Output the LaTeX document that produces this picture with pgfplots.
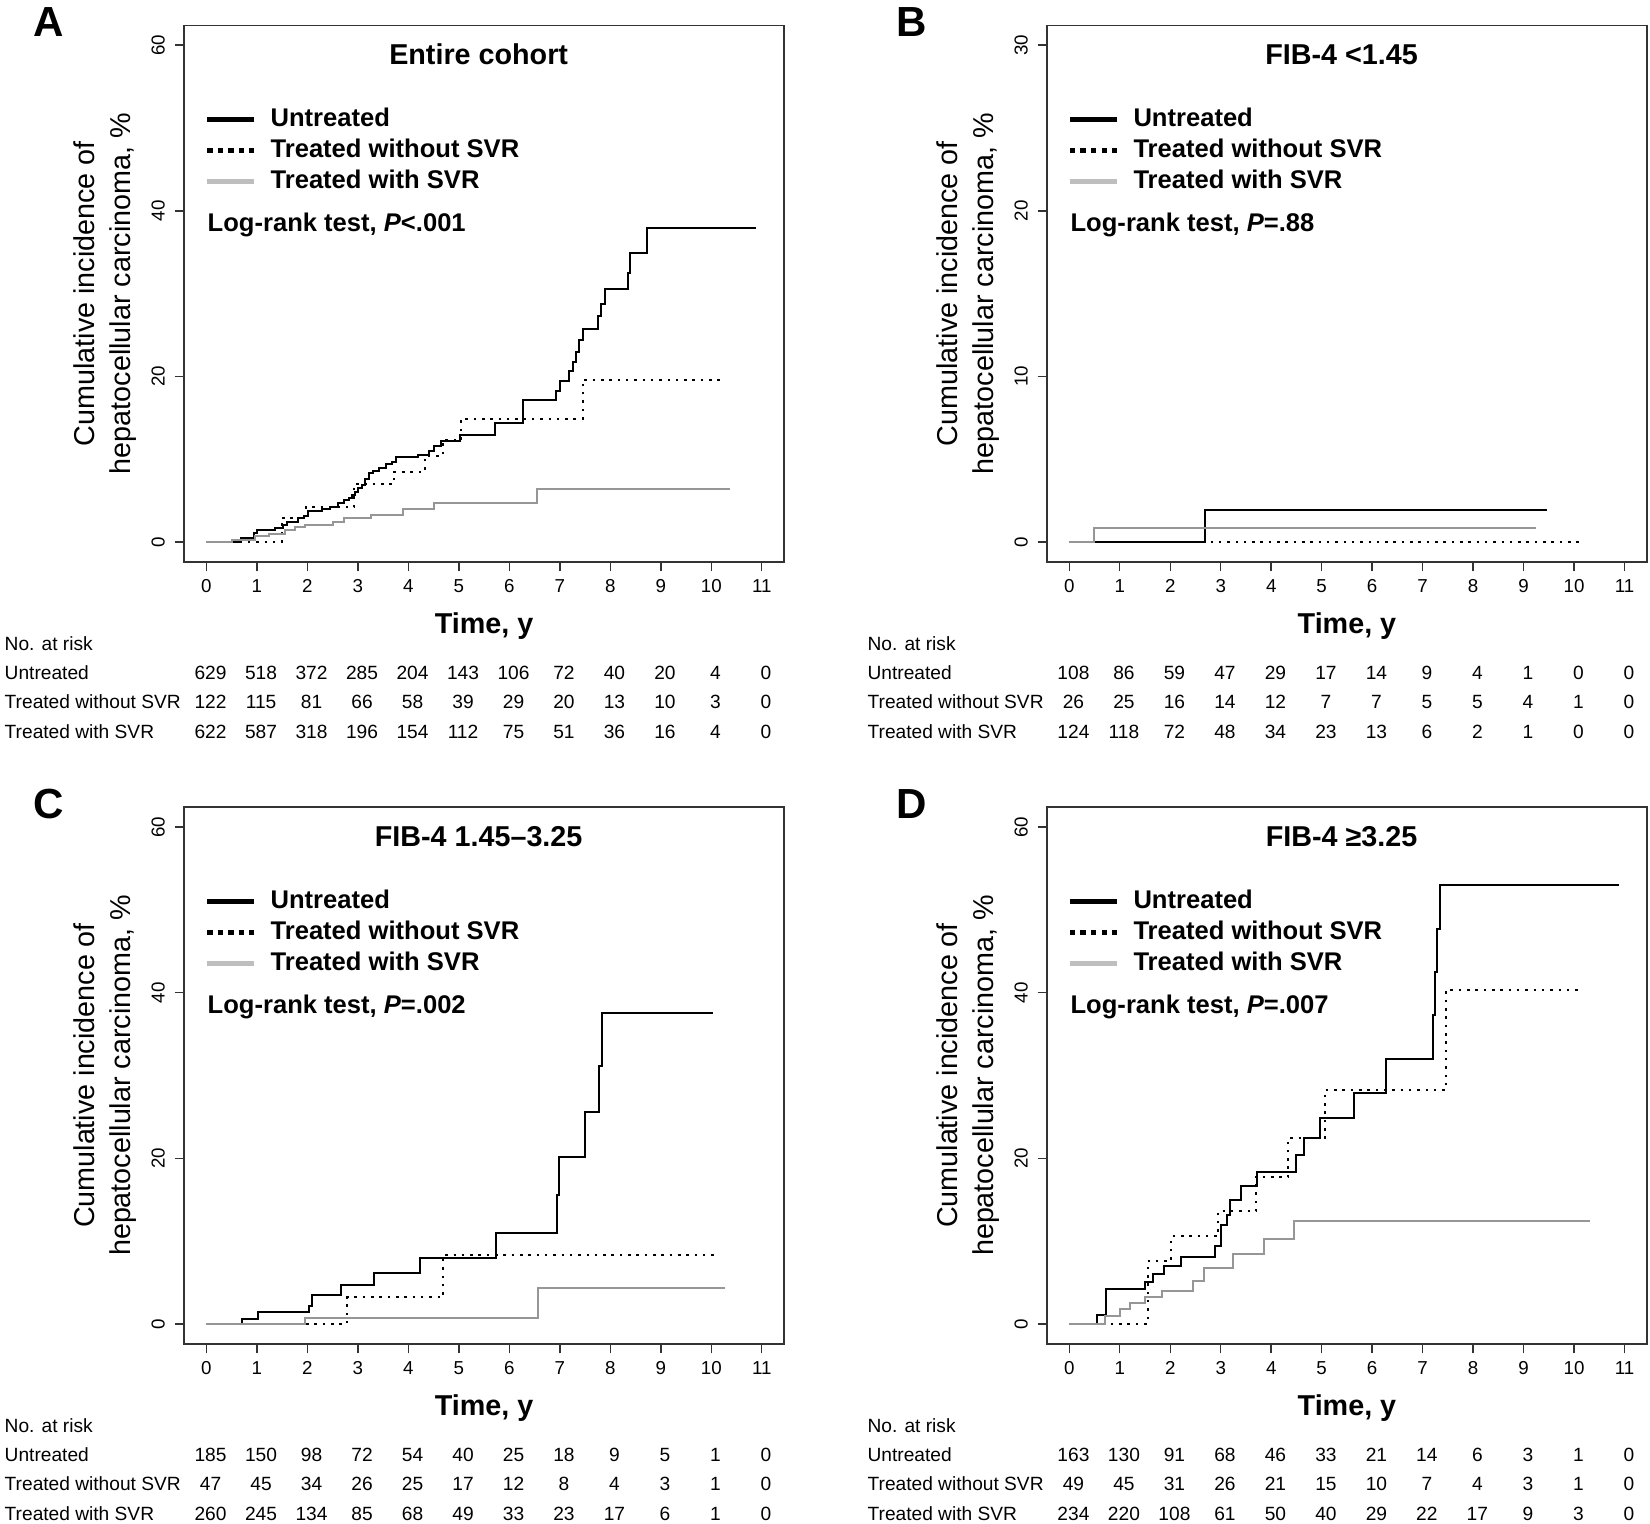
\documentclass[border=0pt]{standalone}
\usepackage{pgfplots}
\pgfplotsset{compat=1.18}
\usepackage{fontspec}
\setmainfont{Liberation Sans}

\definecolor{svrgray}{RGB}{150,150,150}
\definecolor{leggray}{RGB}{190,190,190}

% 1 px of the reference (at 1568 px wide) = 0.5pt
\pgfplotsset{
  km/.style={
    scale only axis, width=285pt, height=255pt,
    anchor=north west,
    xmin=-0.44, xmax=11.44, xtick={0,...,11},
    axis line style={black!80, line width=0.7pt},
    tick style={black!80, line width=0.7pt},
    tick align=outside, major tick length=4.5pt,
    tick pos=left,
    ticklabel style={font=\fontsize{8.9}{10.5}\selectfont},
    /pgf/number format/assume math mode=true,
    xticklabel style={anchor=north, inner sep=0pt},
    yticklabel style={rotate=90, anchor=south, inner sep=0pt},
    xticklabel shift=3.6pt, yticklabel shift=4.5pt,
    xlabel={Time, y},
    xlabel style={at={(axis description cs:0.5,0)}, anchor=base, yshift=-33.9pt,
      font=\fontsize{13.65}{16}\selectfont\bfseries},
    ylabel={Cumulative incidence of\\hepatocellular carcinoma, \%},
    ylabel style={at={(axis description cs:-0.1316,0.5)}, anchor=center, align=center,
      font=\fontsize{13.65}{17}\selectfont},
    clip=false,
    legend cell align=left,
    legend style={draw=none, fill=none, at={(0.0333,0.8535)}, anchor=north west,
      inner sep=0pt, row sep=0pt, column sep=6.5pt,
      font=\fontsize{12.15}{14.75}\selectfont\bfseries,
      nodes={inner sep=0pt, text height=10.5pt, text depth=4.25pt}},
    legend image code/.code={\draw[##1] (0pt,0pt) -- (22.5pt,0pt);},
  },
  untr/.style={const plot, black, line width=0.95pt,
    legend image post style={line width=2.4pt}},
  nosvr/.style={const plot, black, line width=0.95pt, dash pattern=on 1.2pt off 2.75pt,
    legend image post style={line width=2.4pt, dash pattern=on 2.6pt off 2.4pt}},
  svr/.style={const plot, svrgray, line width=0.95pt,
    legend image post style={line width=2.4pt, color=leggray}},
}

\newcommand{\paneltitle}[1]{\node[anchor=base, font=\fontsize{13.65}{16}\selectfont\bfseries]
  at (rel axis cs:0.491,0.926) {#1};}
\newcommand{\logrank}[1]{\node[anchor=base west, inner sep=0pt, font=\fontsize{12.15}{14}\selectfont\bfseries]
  at (rel axis cs:0.0386,0.6163) {Log-rank test, \textit{P}#1};}

% #1 x of tick 0 (px), #2 baseline of "No. at risk" (px), #3-#5 numbers at risk
\newcommand{\risktable}[5]{%
  \begin{scope}[every node/.style={inner sep=0pt, font=\fontsize{9.1}{11}\selectfont}]
    \node[anchor=base west] at ({(#1-192)*0.5pt},{-(#2)*0.5pt}) {No. at risk};
    \node[anchor=base west] at ({(#1-192)*0.5pt},{-(#2+27)*0.5pt}) {Untreated};
    \node[anchor=base west] at ({(#1-192)*0.5pt},{-(#2+55)*0.5pt}) {Treated without SVR};
    \node[anchor=base west] at ({(#1-192)*0.5pt},{-(#2+83)*0.5pt}) {Treated with SVR};
    \foreach \n [count=\k from 0] in {#3}
      \node[anchor=base] at ({(#1+4+47.98*\k)*0.5pt},{-(#2+27)*0.5pt}) {\n};
    \foreach \n [count=\k from 0] in {#4}
      \node[anchor=base] at ({(#1+4+47.98*\k)*0.5pt},{-(#2+55)*0.5pt}) {\n};
    \foreach \n [count=\k from 0] in {#5}
      \node[anchor=base] at ({(#1+4+47.98*\k)*0.5pt},{-(#2+83)*0.5pt}) {\n};
  \end{scope}}

\begin{document}
\begin{tikzpicture}
\useasboundingbox (0,0) rectangle (784pt,-724pt);

% ---------------- A ----------------
\begin{axis}[km, at={(87.5pt,-12pt)}, ymin=-2.4, ymax=62.4, ytick={0,20,40,60}]
\addplot[untr] coordinates {
 (0,0) (0.68,0.45) (0.94,1.15) (1.0,1.5) (1.36,1.75) (1.52,2.05) (1.59,2.45)
 (1.82,2.9) (1.94,3.2) (2.02,3.8) (2.3,4.0) (2.45,4.27) (2.6,4.7) (2.72,5.07)
 (2.82,5.3) (2.88,5.7) (2.94,6.0) (3.0,6.5) (3.08,6.9) (3.15,7.6) (3.22,8.3)
 (3.3,8.6) (3.42,9.0) (3.55,9.4) (3.68,9.7) (3.76,10.3) (4.2,10.55) (4.4,11.0)
 (4.5,11.6) (4.65,12.2) (5.03,12.9) (5.72,14.35) (6.28,17.15) (6.93,18.2)
 (7.0,19.4) (7.18,20.6) (7.26,21.8) (7.33,23.0) (7.38,24.4) (7.45,25.7)
 (7.76,27.3) (7.82,28.7) (7.89,30.5) (8.36,32.5) (8.40,34.9) (8.72,37.95)
 (10.88,37.95)};
\addlegendentry{Untreated}
\addplot[nosvr] coordinates {
 (0,0) (1.49,2.9) (1.98,4.27) (2.93,7.0) (3.72,8.5) (4.33,10.4) (4.68,12.3)
 (5.05,14.9) (7.45,19.6) (10.25,19.6)};
\addlegendentry{Treated without SVR}
\addplot[svr] coordinates {
 (0,0) (0.5,0.3) (0.97,0.75) (1.25,1.0) (1.55,1.44) (1.75,1.77) (1.95,2.05)
 (2.5,2.45) (2.72,2.86) (3.27,3.26) (3.9,4.0) (4.5,4.7) (6.55,6.37) (10.38,6.37)};
\addlegendentry{Treated with SVR}
\paneltitle{Entire cohort}
\logrank{<.001}
\end{axis}

% ---------------- B ----------------
\begin{axis}[km, at={(497.5pt,-12pt)}, ymin=-1.2, ymax=31.2, ytick={0,10,20,30}]
\addplot[untr] coordinates {(0,0) (2.68,1.95) (9.46,1.95)};
\addlegendentry{Untreated}
\addplot[nosvr] coordinates {(0,0) (10.17,0)};
\addlegendentry{Treated without SVR}
\addplot[svr] coordinates {(0,0) (0.49,0.87) (9.24,0.87)};
\addlegendentry{Treated with SVR}
\paneltitle{FIB-4 <1.45}
\logrank{=.88}
\end{axis}

% ---------------- C ----------------
\begin{axis}[km, at={(87.5pt,-383.5pt)}, ymin=-2.4, ymax=62.4, ytick={0,20,40,60}]
\addplot[untr] coordinates {
 (0,0) (0.71,0.55) (1.02,1.45) (2.03,2.2) (2.1,3.5) (2.66,4.7) (3.33,6.2)
 (4.24,8.0) (5.74,11.0) (6.94,15.6) (6.98,20.2) (7.5,25.6) (7.78,31.2)
 (7.84,37.6) (10.04,37.6)};
\addlegendentry{Untreated}
\addplot[nosvr] coordinates {(0,0) (2.79,3.2) (4.69,8.3) (10.12,8.3)};
\addlegendentry{Treated without SVR}
\addplot[svr] coordinates {(0,0) (1.96,0.76) (6.56,4.33) (10.27,4.33)};
\addlegendentry{Treated with SVR}
\paneltitle{FIB-4 1.45–3.25}
\logrank{=.002}
\end{axis}

% ---------------- D ----------------
\begin{axis}[km, at={(497.5pt,-383.5pt)}, ymin=-2.4, ymax=62.4, ytick={0,20,40,60}]
\addplot[untr] coordinates {
 (0,0) (0.55,1.1) (0.72,4.2) (1.5,5.1) (1.66,6.05) (1.88,6.95) (2.22,8.1)
 (2.88,9.4) (3.0,12.0) (3.13,13.2) (3.19,15.0) (3.4,16.7) (3.71,18.3)
 (4.5,20.4) (4.65,22.5) (4.96,24.9) (5.64,27.9) (6.27,32.0) (7.2,37.3)
 (7.25,42.5) (7.28,47.7) (7.35,53.0) (10.88,53.0)};
\addlegendentry{Untreated}
\addplot[nosvr] coordinates {
 (0,0) (1.55,7.6) (2.02,10.6) (2.95,13.6) (3.70,17.8) (4.34,22.5) (5.06,28.25)
 (7.46,40.3) (10.17,40.3)};
\addlegendentry{Treated without SVR}
\addplot[svr] coordinates {
 (0,0) (0.7,0.9) (1.0,1.8) (1.2,2.5) (1.5,3.2) (1.84,4.0) (2.45,5.2) (2.67,6.75)
 (3.24,8.45) (3.86,10.2) (4.46,12.4) (10.31,12.4)};
\addlegendentry{Treated with SVR}
\paneltitle{FIB-4 ≥3.25}
\logrank{=.007}
\end{axis}

% panel letters
\begin{scope}[every node/.style={anchor=base, inner sep=0pt, font=\fontsize{20}{24}\selectfont\bfseries}]
\node at (23pt,-17.3pt) {A};
\node at (433pt,-17.3pt) {B};
\node at (23pt,-388.8pt) {C};
\node at (433pt,-388.8pt) {D};
\end{scope}

% numbers at risk
\risktable{196.1}{618.5}{629,518,372,285,204,143,106,72,40,20,4,0}{122,115,81,66,58,39,29,20,13,10,3,0}{622,587,318,196,154,112,75,51,36,16,4,0}
\risktable{1016.1}{618.5}{108,86,59,47,29,17,14,9,4,1,0,0}{26,25,16,14,12,7,7,5,5,4,1,0}{124,118,72,48,34,23,13,6,2,1,0,0}
\risktable{196.1}{1361.5}{185,150,98,72,54,40,25,18,9,5,1,0}{47,45,34,26,25,17,12,8,4,3,1,0}{260,245,134,85,68,49,33,23,17,6,1,0}
\risktable{1016.1}{1361.5}{163,130,91,68,46,33,21,14,6,3,1,0}{49,45,31,26,21,15,10,7,4,3,1,0}{234,220,108,61,50,40,29,22,17,9,3,0}
\end{tikzpicture}
\end{document}
